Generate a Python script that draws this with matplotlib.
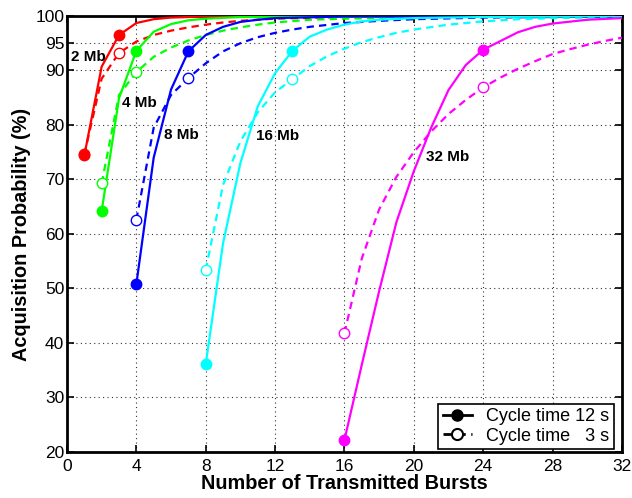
import matplotlib
matplotlib.use("Agg")
import matplotlib.pyplot as plt
from matplotlib.lines import Line2D

plt.rcParams['font.family'] = ['Liberation Sans', 'DejaVu Sans']

# file sizes and their colours
sizes = ['2 Mb', '4 Mb', '8 Mb', '16 Mb', '32 Mb']
colors = ['#ff0000', '#00ff00', '#0000ff', '#00ffff', '#ff00ff']

# cycle time 12 s (solid)
x12_2 = [1, 2, 3, 4, 5, 6, 8, 32]
y12_2 = [74.4, 90.7, 96.5, 98.7, 99.4, 99.7, 99.9, 100]
x12_4 = [2, 3, 4, 5, 6, 7, 8, 10, 32]
y12_4 = [64.2, 84.9, 93.6, 97.1, 98.5, 99.2, 99.5, 99.8, 100]
x12_8 = [4, 5, 6, 7, 8, 9, 10, 11, 12, 16, 32]
y12_8 = [50.8, 74.0, 86.5, 93.5, 96.5, 98.0, 98.9, 99.3, 99.6, 99.9, 100]
x12_16 = [8, 9, 10, 11, 12, 13, 14, 15, 16, 17, 18, 20, 24, 32]
y12_16 = [36.1, 58.3, 73.0, 83.4, 89.5, 93.6, 96.2, 97.5, 98.4, 99.0, 99.3, 99.6, 99.8, 100]
x12_32 = [16, 17, 18, 19, 20, 21, 22, 23, 24, 25, 26, 27, 28, 30, 32]
y12_32 = [22.2, 36.0, 49.5, 62.2, 71.5, 79.5, 86.4, 91.0, 93.8, 95.4, 97.0, 98.0, 98.6, 99.3, 99.6]

# cycle time 3 s (dashed)
x3_2 = [1, 2, 3, 4, 5, 6, 7, 8, 9, 10, 12, 16, 32]
y3_2 = [74.6, 88.5, 93.2, 95.3, 96.5, 97.3, 97.9, 98.4, 98.8, 99.1, 99.5, 99.8, 100]
x3_4 = [2, 3, 4, 5, 6, 7, 8, 9, 10, 11, 12, 14, 16, 20, 32]
y3_4 = [69.3, 85.5, 89.7, 92.5, 94.2, 95.5, 96.5, 97.3, 97.9, 98.4, 98.8, 99.3, 99.5, 99.8, 99.9]
x3_8 = [4, 5, 6, 7, 8, 9, 10, 11, 12, 13, 14, 16, 18, 20, 24, 28, 32]
y3_8 = [62.6, 79.5, 85.5, 88.6, 91.3, 93.5, 95.0, 96.1, 96.9, 97.5, 98.0, 98.7, 99.1, 99.4, 99.7, 99.8, 99.9]
x3_16 = [8, 9, 10, 11, 12, 13, 14, 15, 16, 17, 18, 19, 20, 22, 24, 26, 28, 32]
y3_16 = [53.4, 69.0, 77.0, 82.3, 86.0, 88.4, 90.8, 92.6, 94.0, 95.2, 96.1, 96.9, 97.5, 98.4, 99.0, 99.4, 99.6, 99.8]
x3_32 = [16, 17, 18, 19, 20, 21, 22, 23, 24, 25, 26, 27, 28, 29, 30, 31, 32]
y3_32 = [41.8, 55.5, 64.5, 70.5, 75.0, 78.8, 82.0, 84.6, 86.9, 88.7, 90.3, 91.7, 93.0, 93.9, 94.7, 95.4, 96.0]

# bursts where the markers sit
mark_x = [[1, 3], [2, 4], [4, 7], [8, 13], [16, 24]]

# label positions (burst, probability)
label_x = [0.25, 3.2, 5.6, 10.9, 20.7]
label_y = [92.5, 84.0, 78.2, 77.9, 74.2]

solid = [(x12_2, y12_2), (x12_4, y12_4), (x12_8, y12_8), (x12_16, y12_16), (x12_32, y12_32)]
dashed = [(x3_2, y3_2), (x3_4, y3_4), (x3_8, y3_8), (x3_16, y3_16), (x3_32, y3_32)]

fig = plt.figure(figsize=(6.32, 4.98), dpi=100)
ax = fig.add_axes([0.106, 0.0924, 0.878, 0.8756])

for i in range(len(sizes)):
    c = colors[i]
    xd, yd = dashed[i]
    xs, ys = solid[i]
    ax.plot(xd, yd, color=c, lw=1.6, ls=(0, (3.3, 2.3)), zorder=3)
    ax.plot(xs, ys, color=c, lw=1.6, zorder=4)
    for mx in mark_x[i]:
        ax.plot(mx, yd[xd.index(mx)], 'o', ms=7.5, mfc='white', mec=c, mew=1.0, zorder=5)
        ax.plot(mx, ys[xs.index(mx)], 'o', ms=7.5, mfc=c, mec=c, zorder=6)
    ax.text(label_x[i], label_y[i], sizes[i], fontsize=11, fontweight='bold',
            ha='left', va='center', zorder=7)

ax.set_xlim(0, 32)
ax.set_ylim(20, 100)
ax.set_xticks(range(0, 33, 4))
ax.set_yticks([20, 30, 40, 50, 60, 70, 80, 90, 95, 100])
ax.grid(True, color='#333333', ls=(0, (1, 3)), lw=0.8)
ax.tick_params(direction='in', top=True, right=True, length=5, width=1.2,
               labelsize=12.5)
ax.tick_params(axis='x', pad=5)
ax.tick_params(axis='y', pad=2)
for s in ax.spines.values():
    s.set_linewidth(2)

ax.set_xlabel('Number of Transmitted Bursts', fontsize=14.3, fontweight='bold', labelpad=0)
ax.set_ylabel('Acquisition Probability (%)', fontsize=14.3, fontweight='bold', labelpad=3)

handles = [
    Line2D([], [], color='black', lw=2, marker='o', ms=8, mfc='black'),
    Line2D([], [], color='black', lw=2, ls=(0, (3, 2)), marker='o', ms=8, mfc='white', mew=1.5),
]
leg = ax.legend(handles, ['Cycle time 12 s', 'Cycle time   3 s'], loc='lower right',
                fontsize=13, fancybox=False, edgecolor='black', framealpha=1,
                handlelength=1.6, borderpad=0.25, labelspacing=0.15,
                borderaxespad=0.15, bbox_to_anchor=(0.99, 0.0))
leg.get_frame().set_linewidth(1.2)

fig.savefig('out.png', dpi=100)
